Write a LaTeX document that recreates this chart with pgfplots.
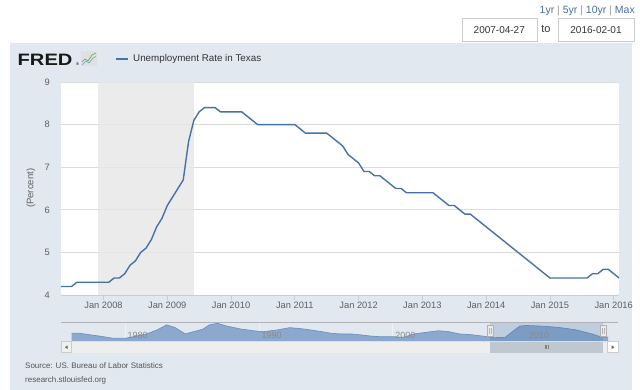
\documentclass[border=0pt]{standalone}
\usepackage{pgfplots}
\pgfplotsset{compat=1.18}
\usepackage{fontspec}
\setmainfont{Liberation Sans}
\definecolor{panelbg}{HTML}{E1E8EF}
\definecolor{linecol}{HTML}{4572A7}
\definecolor{recgray}{HTML}{E6E6E6}
\definecolor{gridc}{HTML}{DCDCDC}
\definecolor{axisline}{HTML}{C0D0E0}
\definecolor{tickc}{HTML}{606060}
\definecolor{legtext}{HTML}{333333}
\definecolor{linkblue}{HTML}{4A6FA5}
\definecolor{sepgray}{HTML}{999999}
\definecolor{boxgray}{HTML}{CCCCCC}
\definecolor{navfill}{HTML}{8CA8CC}
\definecolor{navline}{HTML}{6E92C0}
\definecolor{navgrid}{HTML}{EEF2F6}
\definecolor{navlab}{HTML}{8A8A8A}
\definecolor{navout}{HTML}{B2B1B6}
\definecolor{scrolltrack}{HTML}{EEEEEE}
\definecolor{thumb}{HTML}{BFC8D1}
\definecolor{srcgray}{HTML}{555555}
\begin{document}
\begin{tikzpicture}[x=1pt,y=1pt]
\fill[white] (0,0) rectangle (640,-390);
\fill[panelbg] (10,-43) rectangle (632,-390);
% range controls
\node[anchor=east, inner sep=0, font=\fontsize{10.5}{12}\selectfont, text=linkblue] at (635,-11)
  {1yr \textcolor{sepgray}{|} 5yr \textcolor{sepgray}{|} 10yr \textcolor{sepgray}{|} Max};
\draw[boxgray, fill=white] (462,-18.3) rectangle (536.7,-41.7);
\node[font=\fontsize{10}{12}\selectfont, text=legtext] at (499.3,-30) {2007-04-27};
\node[font=\fontsize{11}{12}\selectfont, text=legtext] at (546,-29) {to};
\draw[boxgray, fill=white] (558,-18.3) rectangle (634,-41.7);
\node[font=\fontsize{10}{12}\selectfont, text=legtext] at (596,-30) {2016-02-01};
% logo
\node[anchor=west, inner sep=0, font=\bfseries\fontsize{16.5}{17}\selectfont, text=black!90] at (17.5,-59.5) {\scalebox{1.22}[1]{FRED}};
\node[anchor=west, inner sep=0, font=\fontsize{4}{4}\selectfont] at (76,-64) {\textregistered};
\fill[black!12] (81,-51.5) rectangle (97,-66.5);
\draw[green!55!black!70, line width=0.6] (82,-62) -- (85,-59) -- (88,-61) -- (92,-55) -- (96,-53);
\draw[linecol!70, line width=0.6] (82,-65) -- (86,-61) -- (89,-63) -- (93,-58) -- (96,-56.5);
% legend
\draw[linecol, line width=1.8pt] (116,-58.7) -- (128,-58.7);
\node[anchor=west, inner sep=0, font=\fontsize{9.8}{11}\selectfont, text=legtext] at (133,-58.7) {Unemployment Rate in Texas};
% y label
\node[rotate=90, font=\fontsize{9.5}{11}\selectfont, text=tickc] at (31,-188.3) {(Percent)};
% main axis
\begin{axis}[
  at={(61pt,-295pt)}, anchor=south west,
  scale only axis, width=558pt, height=213pt,
  xmin=4, xmax=109, ymin=4, ymax=9,
  axis background/.style={fill=white},
  axis line style={draw=none},
  xtick={12,24,36,48,60,72,84,96,108},
  xticklabels={Jan 2008,Jan 2009,Jan 2010,Jan 2011,Jan 2012,Jan 2013,Jan 2014,Jan 2015,Jan 2016},
  ytick={4,5,6,7,8,9},
  ymajorgrids, grid style={draw=gridc, line width=0.8pt},
  xtick pos=bottom, ytick pos=left,
  xtick style={draw=axisline, line width=0.8pt},
  ytick style={draw=none},
  tick align=outside, major tick length=5pt,
  tick label style={font=\fontsize{9.3}{11}\selectfont, text=tickc},
  xticklabel style={anchor=north, inner sep=0pt, yshift=-2pt},
  yticklabel style={anchor=east, inner sep=0pt, xshift=-6pt},
  /pgf/number format/assume math mode=true,
]
\addplot[draw=none, fill=recgray, fill opacity=0.8] coordinates {(11,4) (11,9) (29,9) (29,4)} -- cycle;
\addplot[linecol, line width=1.4pt, mark=none] coordinates {
(4,4.2)(5,4.2)(6,4.2)(7,4.3)(8,4.3)(9,4.3)(10,4.3)(11,4.3)(12,4.3)(13,4.3)(14,4.4)(15,4.4)(16,4.5)(17,4.7)(18,4.8)(19,5.0)(20,5.1)(21,5.3)(22,5.6)(23,5.8)(24,6.1)(25,6.3)(26,6.5)(27,6.7)(28,7.6)(29,8.1)(30,8.3)(31,8.4)(32,8.4)(33,8.4)(34,8.3)(35,8.3)(36,8.3)(37,8.3)(38,8.3)(39,8.2)(40,8.1)(41,8.0)(42,8.0)(43,8.0)(44,8.0)(45,8.0)(46,8.0)(47,8.0)(48,8.0)(49,7.9)(50,7.8)(51,7.8)(52,7.8)(53,7.8)(54,7.8)(55,7.7)(56,7.6)(57,7.5)(58,7.3)(59,7.2)(60,7.1)(61,6.9)(62,6.9)(63,6.8)(64,6.8)(65,6.7)(66,6.6)(67,6.5)(68,6.5)(69,6.4)(70,6.4)(71,6.4)(72,6.4)(73,6.4)(74,6.4)(75,6.3)(76,6.2)(77,6.1)(78,6.1)(79,6.0)(80,5.9)(81,5.9)(82,5.8)(83,5.7)(84,5.6)(85,5.5)(86,5.4)(87,5.3)(88,5.2)(89,5.1)(90,5.0)(91,4.9)(92,4.8)(93,4.7)(94,4.6)(95,4.5)(96,4.4)(97,4.4)(98,4.4)(99,4.4)(100,4.4)(101,4.4)(102,4.4)(103,4.4)(104,4.5)(105,4.5)(106,4.6)(107,4.6)(108,4.5)(109,4.4)};
\draw[axisline, line width=0.8pt] (rel axis cs:0,0) -- (rel axis cs:1,0);
\end{axis}
% navigator
\fill[scrolltrack] (61,-341.7) rectangle (618.3,-352.7);
\begin{axis}[
  at={(71.7pt,-341pt)}, anchor=south west,
  scale only axis, width=536.3pt, height=18.7pt,
  xmin=1976, xmax=2016.1, ymin=3.34, ymax=9.32,
  hide axis,
]
\draw[navgrid, line width=0.8pt] (axis cs:1980,3.34) -- (axis cs:1980,9.32);
\draw[navgrid, line width=0.8pt] (axis cs:1990,3.34) -- (axis cs:1990,9.32);
\draw[navgrid, line width=0.8pt] (axis cs:2000,3.34) -- (axis cs:2000,9.32);
\draw[navgrid, line width=0.8pt] (axis cs:2010,3.34) -- (axis cs:2010,9.32);
\addplot[draw=none, fill=navfill] coordinates {
(1976.0,3.34)(1976.0,5.8)(1976.6,5.8)(1977.4,5.3)(1978.1,4.9)(1979.1,4.2)(1980.0,4.2)(1980.6,4.7)(1981.6,5.6)(1982.4,6.9)(1983.1,8.5)(1983.7,7.7)(1984.5,5.6)(1985.1,6.3)(1985.8,7.1)(1986.3,8.5)(1986.9,9.0)(1987.6,8.1)(1988.6,7.2)(1989.6,6.6)(1990.3,6.3)(1991.4,6.9)(1992.3,7.6)(1993.1,7.3)(1993.8,6.9)(1994.6,6.4)(1995.4,5.8)(1996.1,5.6)(1996.9,5.6)(1997.6,5.3)(1998.4,4.9)(1999.1,4.7)(2000.1,4.7)(2000.8,4.5)(2001.6,5.6)(2002.3,6.0)(2003.4,6.6)(2004.1,6.4)(2005.0,5.6)(2006.0,5.3)(2007.1,4.7)(2007.5,4.4)(2008.4,4.5)(2009.0,6.5)(2009.5,8.1)(2010.0,8.3)(2011.1,8.1)(2012.4,7.7)(2013.7,6.9)(2014.9,5.6)(2015.7,4.5)(2016.1,4.6)(2016.1,3.34)} -- cycle;
\addplot[navline, line width=0.7pt, mark=none] coordinates {
(1976.0,5.8)(1976.6,5.8)(1977.4,5.3)(1978.1,4.9)(1979.1,4.2)(1980.0,4.2)(1980.6,4.7)(1981.6,5.6)(1982.4,6.9)(1983.1,8.5)(1983.7,7.7)(1984.5,5.6)(1985.1,6.3)(1985.8,7.1)(1986.3,8.5)(1986.9,9.0)(1987.6,8.1)(1988.6,7.2)(1989.6,6.6)(1990.3,6.3)(1991.4,6.9)(1992.3,7.6)(1993.1,7.3)(1993.8,6.9)(1994.6,6.4)(1995.4,5.8)(1996.1,5.6)(1996.9,5.6)(1997.6,5.3)(1998.4,4.9)(1999.1,4.7)(2000.1,4.7)(2000.8,4.5)(2001.6,5.6)(2002.3,6.0)(2003.4,6.6)(2004.1,6.4)(2005.0,5.6)(2006.0,5.3)(2007.1,4.7)(2007.5,4.4)(2008.4,4.5)(2009.0,6.5)(2009.5,8.1)(2010.0,8.3)(2011.1,8.1)(2012.4,7.7)(2013.7,6.9)(2014.9,5.6)(2015.7,4.5)(2016.1,4.6)};
\end{axis}
\fill[linecol, opacity=0.22] (490,-322.3) rectangle (603,-341);
\draw[navout, line width=0.6pt] (61,-322.3) -- (618.3,-322.3);
\foreach \yr/\xx in {1980/125,1990/259,2000/392.7,2010/526.4}{
  \node[anchor=west, inner sep=0, font=\fontsize{9}{10}\selectfont, text=navlab] at (\xx+2.5,-335) {\yr};
}
% handles
\foreach \hx in {490,603}{
  \draw[navout, fill=white!92!black, line width=0.5pt] (\hx-2.8,-325.3) rectangle (\hx+2.8,-336.7);
  \draw[navout, line width=0.4pt] (\hx-0.8,-328) -- (\hx-0.8,-334) (\hx+0.8,-328) -- (\hx+0.8,-334);
}
% scrollbar
\draw[boxgray, fill=white!94!black, line width=0.5pt] (61,-341.7) rectangle (71.7,-352.7);
\fill[black!60] (64.8,-347.2) -- (67.6,-345.4) -- (67.6,-349) -- cycle;
\fill[thumb] (490,-341.7) rectangle (603,-352.7);
\draw[black!50, line width=0.5pt] (545,-345) -- (545,-349.4) (546.5,-345) -- (546.5,-349.4) (548,-345) -- (548,-349.4);
\draw[boxgray, fill=white, line width=0.5pt] (607.7,-341.7) rectangle (618.3,-352.7);
\fill[black!60] (614.4,-347.2) -- (611.6,-345.4) -- (611.6,-349) -- cycle;
% source
\node[anchor=west, inner sep=0, font=\fontsize{8}{9}\selectfont, text=srcgray] at (25,-366) {Source: US. Bureau of Labor Statistics};
\node[anchor=west, inner sep=0, font=\fontsize{8}{9}\selectfont, text=srcgray] at (25,-380) {research.stlouisfed.org};
\end{tikzpicture}
\end{document}
